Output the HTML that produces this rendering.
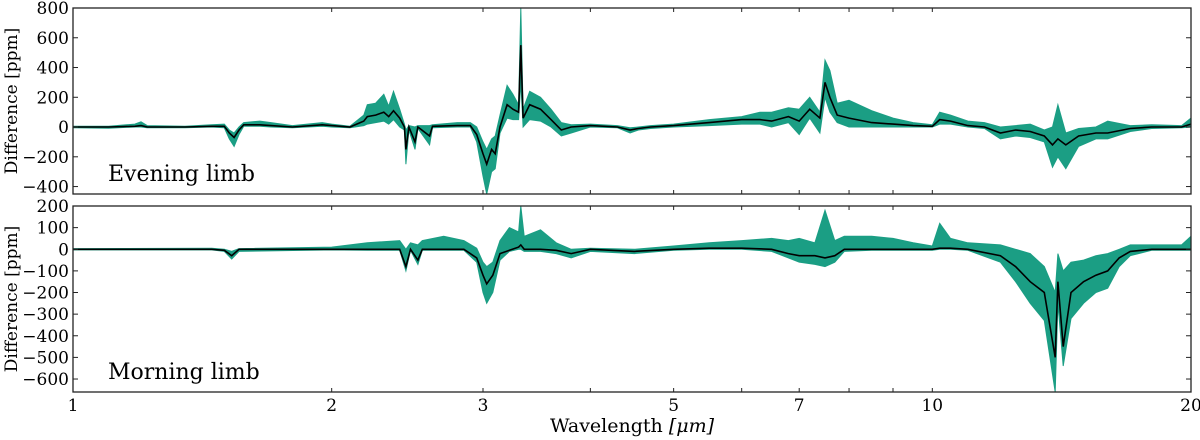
<!DOCTYPE html>
<html><head><meta charset="utf-8"><style>
html,body{margin:0;padding:0;background:#fff;width:1200px;height:440px;overflow:hidden}
svg text{font-family:"DejaVu Serif","Liberation Serif",serif;fill:#000}
</style></head><body>
<svg id="chart" width="1200" height="440" xmlns="http://www.w3.org/2000/svg"></svg>
<script>
// Evening limb data
const wlE=[1.00,1.10,1.18,1.20,1.22,1.35,1.45,1.50,1.52,1.54,1.56,1.58,1.65,1.70,1.80,1.95,2.00,2.10,2.18,2.20,2.25,2.30,2.33,2.36,2.40,2.43,2.44,2.46,2.50,2.52,2.60,2.62,2.80,2.90,2.95,3.00,3.03,3.07,3.10,3.14,3.20,3.25,3.30,3.32,3.34,3.40,3.50,3.60,3.70,3.80,4.00,4.30,4.45,4.55,4.70,5.00,5.50,6.00,6.30,6.50,6.80,7.00,7.20,7.40,7.50,7.60,7.75,8.00,8.50,9.00,9.50,10.0,10.2,10.5,11.0,11.5,12.0,12.5,13.0,13.5,13.8,14.0,14.3,14.8,15.5,16.0,17.0,18.0,19.5,20.0];
const meanE=[0,0,5,10,0,0,5,5,-40,-70,-20,15,15,10,0,15,10,0,40,70,80,100,70,110,60,0,-150,0,-100,0,-60,5,10,10,-50,-180,-250,-150,-180,0,150,120,100,550,60,150,120,50,-20,0,10,0,-20,-10,0,10,30,50,50,40,70,40,120,60,300,200,80,60,30,20,10,5,50,40,10,0,-40,-20,-30,-60,-120,-80,-120,-60,-40,-40,-10,0,0,20];
const loE=[-5,-8,0,0,-5,-5,0,-5,-80,-130,-50,5,5,0,-5,5,0,-5,10,20,30,40,20,50,0,-20,-250,-20,-150,-10,-120,-5,0,0,-100,-330,-450,-300,-280,-40,60,50,50,300,0,50,40,0,-60,-40,0,-5,-40,-20,-10,0,10,20,20,0,30,-50,60,-40,200,100,30,0,0,0,0,0,20,20,0,-10,-80,-60,-70,-100,-270,-200,-280,-130,-80,-80,-30,-10,-5,0];
const hiE=[5,5,20,35,10,5,15,20,-20,-40,0,30,40,30,10,30,20,5,80,150,160,220,140,240,120,20,-20,10,0,10,10,15,30,30,0,-100,-150,-80,-60,80,280,220,150,800,120,240,200,120,30,15,20,10,-5,0,10,20,50,70,100,100,130,120,200,100,450,380,160,180,110,60,30,15,100,80,40,30,0,10,20,-20,0,150,-40,-10,0,40,10,15,10,60];
// Morning limb data
const wlM=[1.00,1.45,1.50,1.53,1.56,2.00,2.20,2.40,2.44,2.47,2.52,2.55,2.70,2.85,2.95,3.00,3.03,3.08,3.14,3.22,3.30,3.32,3.35,3.50,3.65,3.80,4.00,4.50,5.00,5.50,6.00,6.50,6.80,7.00,7.30,7.50,7.70,7.90,8.50,9.00,9.50,10.0,10.2,10.5,11.0,12.0,12.5,13.0,13.5,13.9,14.0,14.2,14.5,15.0,15.5,16.0,16.5,17.0,18.0,19.5,20.0];
const meanM=[0,0,-5,-30,0,0,0,0,-80,0,-50,0,0,0,-40,-120,-160,-120,-20,-5,10,20,0,0,-5,-20,0,-10,0,5,5,0,-20,-30,-30,-40,-30,0,0,0,0,0,5,5,0,-30,-80,-150,-200,-500,-150,-450,-200,-150,-120,-100,-40,-10,0,0,0];
const loM=[-3,-3,-10,-45,-10,-3,-5,-5,-100,-5,-70,-5,-5,-5,-60,-200,-250,-200,-50,-10,0,0,-10,-10,-20,-40,-10,-20,-5,0,0,-10,-40,-60,-70,-80,-60,-10,-5,-5,-5,-5,0,0,-5,-60,-150,-250,-330,-660,-250,-540,-320,-250,-200,-180,-80,-30,-5,-5,-5];
const hiM=[3,5,0,-10,3,10,30,40,0,30,20,40,60,40,5,-60,-80,-60,40,100,80,200,60,90,30,0,5,0,15,30,40,50,40,50,30,180,40,60,60,50,30,15,120,50,30,20,0,-20,-80,-200,-20,-100,-60,-50,-30,-20,0,20,20,20,60];
// Axis ticks
const xTicks=[1,2,3,5,7,10,20];
const xMinor=[4,6,8,9];
const yTicksE=[800,600,400,200,0,-200,-400];
const yTicksM=[200,100,0,-100,-200,-300,-400,-500,-600];

const NS='http://www.w3.org/2000/svg';
const svg=document.getElementById('chart');
const X0=73,X1=1191;
const xs=w=>X0+(X1-X0)*Math.log10(w)/Math.log10(20);
function mk(tag,attrs,parent){const e=document.createElementNS(NS,tag);for(const k in attrs)e.setAttribute(k,attrs[k]);(parent||svg).appendChild(e);return e;}

function panel(name,top,bot,ymax,ymin,wl,mean,lo,hi,yt,title){
  const g=mk('g',{});
  
  
  const ys=v=>top+(ymax-v)/(ymax-ymin)*(bot-top);
  let up=wl.map((w,i)=>xs(w).toFixed(1)+','+ys(hi[i]).toFixed(1));
  let dn=wl.map((w,i)=>xs(w).toFixed(1)+','+ys(lo[i]).toFixed(1)).reverse();
  const band=mk('polygon',{points:up.concat(dn).join(' '),fill:'#1b9e84',stroke:'#1b9e84','stroke-width':'1'},g);
  
  
  const line=mk('polyline',{points:wl.map((w,i)=>xs(w).toFixed(1)+','+ys(mean[i]).toFixed(1)).join(' '),fill:'none',stroke:'#000','stroke-width':'1.6'},g);
  
  
  const fr=mk('rect',{x:X0,y:top,width:X1-X0,height:bot-top,fill:'none',stroke:'#222','stroke-width':'1.3'},g);
  
  
  xTicks.concat(xMinor).forEach(t=>{const x=xs(t);
    mk('line',{x1:x,x2:x,y1:top,y2:top+4,stroke:'#222'},g);
    mk('line',{x1:x,x2:x,y1:bot,y2:bot-4,stroke:'#222'},g);});
  yt.forEach(v=>{const y=ys(v);
    mk('line',{x1:X0,x2:X0+5,y1:y,y2:y,stroke:'#222'},g);
    mk('line',{x1:X1,x2:X1-5,y1:y,y2:y,stroke:'#222'},g);
    const t=mk('text',{x:X0-4,y:y+6,'text-anchor':'end','font-size':'17'},g);
    t.textContent=(v<0?'\u2212'+(-v):v);
    
    });
  const yl=mk('text',{x:0,y:0,'font-size':'17','text-anchor':'middle',transform:'translate(17,'+((top+bot)/2)+') rotate(-90)'},g);
  yl.textContent='Difference [ppm]';
  
  
  const tt=mk('text',{x:108,y:bot-13,'font-size':'22'},g);
  tt.textContent=title;
  
  
}
panel('evening-limb',8,194,800,-450,wlE,meanE,loE,hiE,yTicksE,'Evening limb');
panel('morning-limb',206,392,200,-660,wlM,meanM,loM,hiM,yTicksM,'Morning limb');
xTicks.forEach(t=>{const l=mk('text',{x:xs(t),y:411,'text-anchor':'middle','font-size':'17'});
  l.textContent=t;
  
  });
const xl=mk('text',{x:632,y:432,'text-anchor':'middle','font-size':'19'});
xl.innerHTML='Wavelength <tspan font-style="italic">[μm]</tspan>';


</script>
</body></html>
